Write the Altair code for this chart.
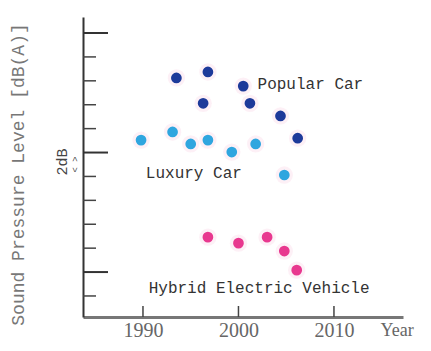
import altair as alt
import pandas as pd

# ---- data ----
popular_year = [1993.5, 1996.8, 2000.5, 1996.3, 2001.2, 2004.4, 2006.2]
popular_level = [10.12, 10.37, 9.78, 9.06, 9.06, 8.53, 7.60]

luxury_year = [1989.8, 1993.1, 1995.0, 1996.8, 1999.3, 2001.8, 2004.8]
luxury_level = [7.52, 7.86, 7.36, 7.52, 7.02, 7.36, 6.06]

hybrid_year = [1996.8, 2000.0, 2003.0, 2004.8, 2006.1]
hybrid_level = [3.46, 3.21, 3.46, 2.88, 2.08]

groups = ["Popular Car", "Luxury Car", "Hybrid Electric Vehicle"]
colors = ["#1d3a9a", "#2fa6df", "#e8388f"]

label_text = ["Popular Car", "Luxury Car", "Hybrid Electric Vehicle"]
label_year = [2002.0, 1990.3, 1990.6]
label_level = [9.85, 6.14, 1.33]

x_ticks = [1990, 2000, 2010]
y_major = [2, 7, 12]
y_minor = [1, 3, 4, 5, 6, 8, 9, 10, 11]

rows = []
for g, ys, ls in zip(groups, [popular_year, luxury_year, hybrid_year],
                     [popular_level, luxury_level, hybrid_level]):
    for y, l in zip(ys, ls):
        rows.append({"group": g, "year": y, "level": l})
pts = pd.DataFrame(rows)
labels = pd.DataFrame({"text": label_text, "year": label_year, "level": label_level})
db_label = pd.DataFrame({"text": ["2dB"], "year": [1981.5], "level": [6.6]})
db_marks = pd.DataFrame({"text": ["< >"], "year": [1982.9], "level": [6.5]})

xscale = alt.Scale(domain=[1983.72, 2017.23], nice=False, zero=False)
yscale = alt.Scale(domain=[0.12, 12.67], nice=False, zero=False)

xaxis = alt.Axis(values=x_ticks, format="d", ticks=False, grid=False,
                 domainColor="#777777", domainWidth=3,
                 labelFont="Liberation Serif", labelFontSize=20, labelColor="#666666",
                 labelPadding=3,
                 title="Year", titleFont="Liberation Serif", titleFontSize=18,
                 titleColor="#666666", titleFontWeight="normal",
                 titleX=297, titleY=4, titleAlign="left", titleBaseline="top")
yaxis = alt.Axis(labels=False, ticks=False, grid=False,
                 domainColor="#333333", domainWidth=2,
                 title="Sound Pressure Level [dB(A)]", titleFont="Liberation Mono",
                 titleFontSize=18, titleColor="#777777", titleFontWeight="normal",
                 titleX=-65, titleY=157, titleAngle=270, titleAlign="center",
                 titleBaseline="middle")

X = alt.X("year:Q", scale=xscale, axis=xaxis)
Y = alt.Y("level:Q", scale=yscale, axis=yaxis)

color = alt.Color("group:N", scale=alt.Scale(domain=groups, range=colors), legend=None)

halo = alt.Chart(pts).mark_circle(size=300, opacity=0.10, color="#f06aa8").encode(x=X, y=Y)
points = alt.Chart(pts).mark_circle(size=115, opacity=1).encode(x=X, y=Y, color=color)

text = alt.Chart(labels).mark_text(align="left", baseline="middle", font="Liberation Mono",
                                   fontSize=16, color="#333333").encode(
    x="year:Q", y="level:Q", text="text:N")

dbt = alt.Chart(db_label).mark_text(align="center", baseline="middle", font="Liberation Mono",
                                    fontSize=15, color="#444444", angle=270).encode(
    x="year:Q", y="level:Q", text="text:N")
dbm = alt.Chart(db_marks).mark_text(align="center", baseline="middle", font="Liberation Mono",
                                    fontSize=9, color="#444444", angle=270).encode(
    x="year:Q", y="level:Q", text="text:N")

major = alt.Chart(pd.DataFrame({"level": y_major})).mark_rule(
    color="#333333", strokeWidth=2).encode(y="level:Q", x=alt.value(0), x2=alt.value(25))
minor = alt.Chart(pd.DataFrame({"level": y_minor})).mark_rule(
    color="#444444", strokeWidth=1.5).encode(y="level:Q", x=alt.value(0), x2=alt.value(13))
xt = alt.Chart(pd.DataFrame({"year": x_ticks})).mark_rule(
    color="#444444", strokeWidth=1.5).encode(x="year:Q", y=alt.value(300), y2=alt.value(289))

chart = alt.layer(halo, points, major, minor, xt, text, dbt, dbm).properties(
    width=320, height=300,
    autosize=alt.AutoSizeParams(type="none"),
    padding={"left": 75, "top": 9, "right": 12, "bottom": 26},
    background="white",
).configure_view(stroke=None)

chart.save("out.html", embed_options={"renderer": "svg", "actions": False})
